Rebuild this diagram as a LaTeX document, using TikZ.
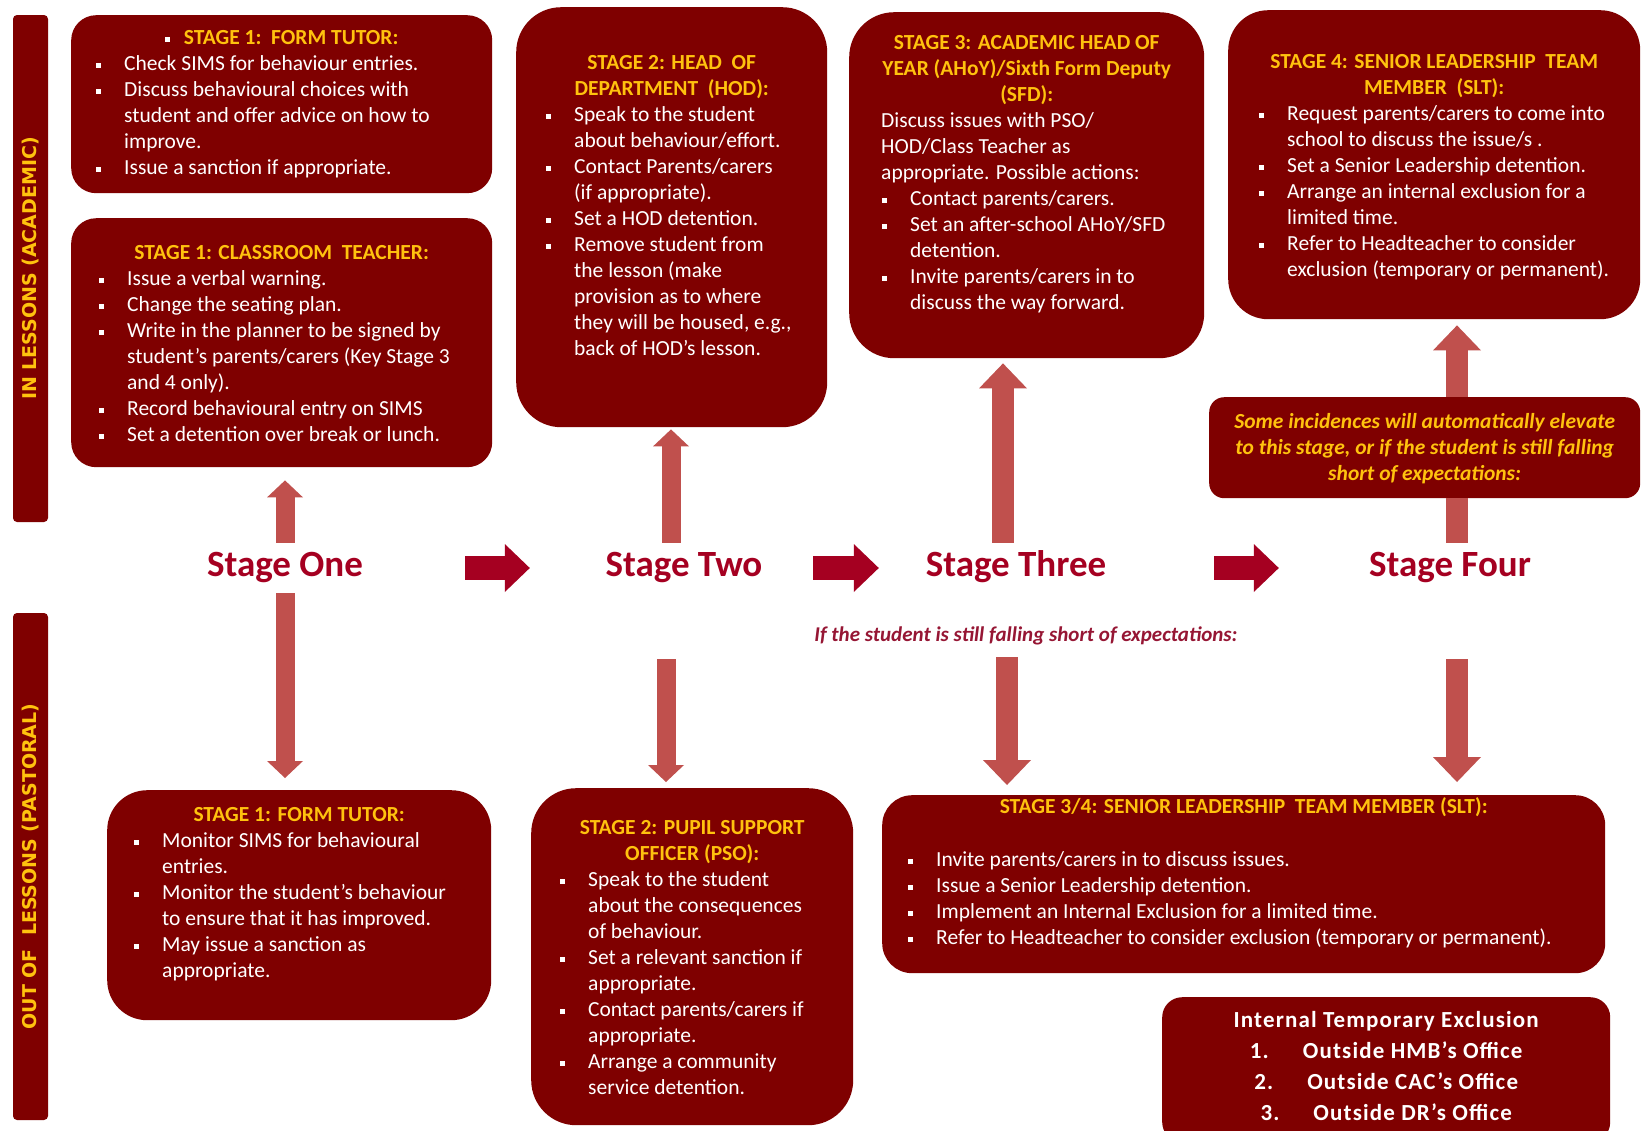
\documentclass[tikz,border=0pt]{standalone}
\usepackage{fontspec}
\setmainfont{Carlito}
\newfontfamily\sidefont{DejaVu Sans}
\usepackage{enumitem}
\usetikzlibrary{arrows.meta}
\definecolor{CardRed}{HTML}{7F0000}
\definecolor{GoldText}{HTML}{FFC20E}
\definecolor{StageRed}{HTML}{A50021}
\definecolor{NoteRed}{HTML}{961634}
\definecolor{ArrowRed}{HTML}{C0504D}
\newcommand{\sqbul}{\raisebox{2.5pt}{\rule{5pt}{5pt}}}
\newcommand{\hd}[1]{{\centering\leavevmode\color{GoldText}\bfseries\strut#1\par}}
\newcommand{\cardtext}[4]{\parbox[t][#2pt][t]{#1pt}{\raggedright\vspace*{\dimexpr#3pt-18.2pt\relax}#4}}
\setlist[itemize]{label=\sqbul,nosep,labelsep=23pt}

\begin{document}
\begin{tikzpicture}[x=1pt,y=-1pt]
    \tikzset{
      card/.style={fill=CardRed,text=white,inner sep=0pt,anchor=north west,
                   font=\fontsize{21.5}{26}\selectfont},
      sidebar/.style={fill=CardRed,rounded corners=4pt,rotate=90,minimum width=507pt,
                      minimum height=35pt,inner sep=0pt,text=GoldText,
                      font=\sidefont\bfseries\fontsize{19}{22}\selectfont},
      stagelbl/.style={anchor=base,minimum width=200pt,inner xsep=0pt,inner ysep=9pt,
                       text height=24pt,text depth=8pt,text=StageRed,
                       font=\bfseries\fontsize{37}{44}\selectfont},
      note/.style={text=NoteRed,font=\bfseries\itshape\fontsize{21}{26}\selectfont},
      hfat/.style={draw=StageRed,line width=24pt,
                   -{Triangle[width=48pt,length=25pt,line width=0pt]}},
      vthin/.style={draw=ArrowRed,line width=19pt,
                    -{Triangle[width=36pt,length=17pt,line width=0pt]}},
      vwide/.style={draw=ArrowRed,line width=22pt,
                    -{Triangle[width=48pt,length=25pt,line width=0pt]}},
      vbar/.style={draw=ArrowRed,line width=22pt}
    }
    \path[use as bounding box,fill=white] (0,0) rectangle (1641,1130);

    % side bars
    \node[sidebar] (inlessons) at (30.5,268.5) {IN LESSONS (ACADEMIC)};
    \node[sidebar] (outlessons) at (30.5,866.5) {OUT OF\ \ LESSONS (PASTORAL)};

    % in lessons
    \node[card,rounded corners=25pt] (tutorA) at (71,15) {\cardtext{421}{178}{29}{%
      \hd{{\color{white}\sqbul}\hspace{14pt}STAGE 1:\ \ FORM TUTOR:}
      \begin{itemize}[leftmargin=53pt]
        \item Check SIMS for behaviour entries.
        \item Discuss behavioural choices with\newline student and offer advice on how to\newline improve.
        \item Issue a sanction if appropriate.
      \end{itemize}}};
    \node[card,rounded corners=25pt] (teacher) at (71,218) {\cardtext{421}{249}{41}{%
      \hd{STAGE 1: CLASSROOM\ \ TEACHER:}
      \begin{itemize}[leftmargin=56pt]
        \item Issue a verbal warning.
        \item Change the seating plan.
        \item Write in the planner to be signed by\newline student’s parents/carers (Key Stage 3\newline and 4 only).
        \item Record behavioural entry on SIMS
        \item Set a detention over break or lunch.
      \end{itemize}}};
    \node[card,rounded corners=45pt] (hod) at (516,7) {\cardtext{311}{420}{62}{%
      \hd{STAGE 2: HEAD\ \ OF\\ DEPARTMENT\ \ (HOD):}
      \begin{itemize}[leftmargin=58pt]
        \item Speak to the student\newline about behaviour/effort.
        \item Contact Parents/carers\newline (if appropriate).
        \item Set a HOD detention.
        \item Remove student from\newline the lesson (make\newline provision as to where\newline they will be housed, e.g.,\newline back of HOD’s lesson.
      \end{itemize}}};
    \node[card,rounded corners=45pt] (ahoy) at (849,12) {\cardtext{355}{346}{37}{%
      \hd{STAGE 3: ACADEMIC HEAD OF\\ YEAR (AHoY)/Sixth Form Deputy\\ (SFD):}
      {\leftskip=32pt Discuss issues with PSO/\\ HOD/Class Teacher as\\ appropriate. Possible actions:\par}
      \begin{itemize}[leftmargin=61pt]
        \item Contact parents/carers.
        \item Set an after-school AHoY/SFD\newline detention.
        \item Invite parents/carers in to\newline discuss the way forward.
      \end{itemize}}};
    \node[card,rounded corners=40pt] (sltA) at (1228,10) {\cardtext{412}{309}{58}{%
      \hd{STAGE 4: SENIOR LEADERSHIP\ \ TEAM\\ MEMBER\ \ (SLT):}
      \begin{itemize}[leftmargin=59pt]
        \item Request parents/carers to come into\newline school to discuss the issue/s .
        \item Set a Senior Leadership detention.
        \item Arrange an internal exclusion for a\newline limited time.
        \item Refer to Headteacher to consider\newline exclusion (temporary or permanent).
      \end{itemize}}};
    \node[card,rounded corners=15pt] (incid) at (1209,397) {\cardtext{431}{101}{31}{%
      \hd{\itshape Some incidences will automatically elevate\\ to this stage, or if the student is still falling\\ short of expectations:}}};

    % stages
    \node[stagelbl] (one) at (285,576) {Stage One};
    \node[stagelbl] (two) at (684,576) {Stage Two};
    \node[stagelbl] (three) at (1016,576) {Stage Three};
    \node[stagelbl] (four) at (1450,576) {Stage Four};
    \node[note] (still) at (1026,636) {If the student is still falling short of expectations:};

    % out of lessons
    \node[card,rounded corners=40pt] (tutorB) at (107,790) {\cardtext{384}{230}{31}{%
      \hd{STAGE 1: FORM TUTOR:}
      \begin{itemize}[leftmargin=55pt]
        \item Monitor SIMS for behavioural\newline entries.
        \item Monitor the student’s behaviour\newline to ensure that it has improved.
        \item May issue a sanction as\newline appropriate.
      \end{itemize}}};
    \node[card,rounded corners=45pt] (pso) at (531,788) {\cardtext{322}{337}{46}{%
      \hd{STAGE 2: PUPIL SUPPORT\\ OFFICER (PSO):}
      \begin{itemize}[leftmargin=57pt]
        \item Speak to the student\newline about the consequences\newline of behaviour.
        \item Set a relevant sanction if\newline appropriate.
        \item Contact parents/carers if\newline appropriate.
        \item Arrange a community\newline service detention.
      \end{itemize}}};
    \node[card,rounded corners=30pt] (sltB) at (882,795) {\cardtext{723}{178}{18}{%
      \hd{STAGE 3/4: SENIOR LEADERSHIP\ \ TEAM MEMBER (SLT):}
      \vspace{27pt}
      \begin{itemize}[leftmargin=54pt]
        \item Invite parents/carers in to discuss issues.
        \item Issue a Senior Leadership detention.
        \item Implement an Internal Exclusion for a limited time.
        \item Refer to Headteacher to consider exclusion (temporary or permanent).
      \end{itemize}}};
    \node[card,rounded corners=20pt,
          font=\bfseries\fontsize{23}{31}\selectfont\addfontfeatures{LetterSpace=5}] (exclusion) at (1162,997)
      {\cardtext{448}{145}{26.5}{{\centering\leavevmode\strut Internal Temporary Exclusion\\
        1.\hspace{34pt}Outside HMB’s Office\\ 2.\hspace{34pt}Outside CAC’s Office\\
        3.\hspace{34pt}Outside DR’s Office\par}}};

    % flow between stages
    \draw[hfat,shorten <=80pt,shorten >=54pt] (one.east) -- (two.west);
    \draw[hfat,shorten <=29pt,shorten >=37pt] (two.east) -- (three.west);
    \draw[hfat,shorten <=98pt,shorten >=71pt] (three.east) -- (four.west);

    % up and down
    \draw[vthin,shorten >=13pt] (one.north) -- (one.north |- teacher.south);
    \draw[vthin,shorten >=12pt] (one.south) -- (one.south |- tutorB.north);
    \draw[vthin,shorten >=2pt] ([xshift=-13pt]two.north) -- ([xshift=-13pt]two.north |- hod.south);
    \draw[vthin,shorten <=66pt,shorten >=6pt] ([xshift=-18pt]two.south) -- ([xshift=-18pt]two.south |- pso.north);
    \draw[vwide,shorten >=5pt] ([xshift=-13pt]three.north) -- ([xshift=-13pt]three.north |- ahoy.south);
    \draw[vwide,shorten <=64pt,shorten >=10pt] ([xshift=-9pt]three.south) -- ([xshift=-9pt]three.south |- sltB.north);
    \draw[vbar] ([xshift=7pt]four.north) -- ([xshift=7pt]four.north |- incid.south);
    \draw[vwide,shorten >=6pt] ([xshift=7pt]four.north |- incid.north) -- ([xshift=7pt]four.north |- sltA.south);
    \draw[vwide,shorten <=66pt,shorten >=13pt] ([xshift=7pt]four.south) -- ([xshift=7pt]four.south |- sltB.north);
\end{tikzpicture}
\end{document}
